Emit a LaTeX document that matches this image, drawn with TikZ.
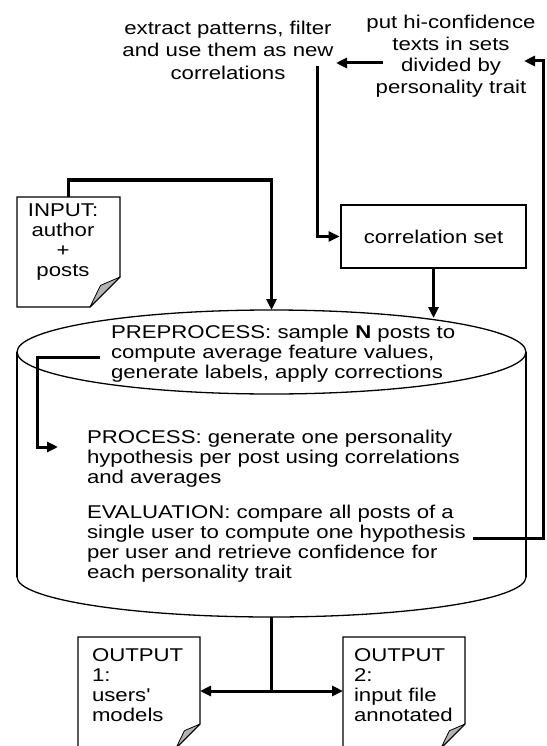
\documentclass[tikz,border=0pt]{standalone}
\usepackage{fontspec}
\setmainfont{Liberation Sans}[FakeStretch=1.2]
\usetikzlibrary{arrows.meta,calc}
\newcommand\docpage[2]{%
  \draw[docline] (#1.south west) -- (#1.north west) -- (#1.north east)
    -- ($(#1.south east)+(0,-#2)$) -- ($(#1.south east)+(-#2,0)$) -- cycle;
  \filldraw[foldfill] ($(#1.south east)+(0,-#2)$) -- ($(#1.south east)+(-#2,0)$)
    -- ($(#1.south east)+(-0.65*#2,-0.72*#2)$) -- cycle;
}
\begin{document}
\begin{tikzpicture}[x=1pt,y=-1pt,
  txt/.style={font=\fontsize{18.5}{20}\selectfont, inner sep=0pt, outer sep=0pt, text=black},
  conn/.style={line width=3pt, -{Triangle[length=11pt,width=10pt]}},
  plain/.style={line width=3pt},
  both/.style={line width=3pt, {Triangle[length=11pt,width=10pt]}-{Triangle[length=11pt,width=10pt]}},
  docbox/.style={draw=none, inner sep=0pt, outer sep=0pt},
  docline/.style={line width=1.3pt, fill=white},
  foldfill/.style={fill=black!30, draw=black, line width=0.8pt, line join=round},
  corrbox/.style={draw, line width=2.8pt, inner sep=0pt, minimum width=185pt, minimum height=63pt, font=\fontsize{18.5}{20}\selectfont},
  cyl/.style={line width=1.3pt}
]
\useasboundingbox (0,0) rectangle (546,746);

% cylinder
\draw[cyl] (17,352) -- (17,577);
\draw[cyl] (526,352) -- (526,577);
\draw[cyl] (17,577) arc[start angle=180, end angle=0, x radius=254.5, y radius=40];
\draw[cyl] (271.5,352) ellipse[x radius=254.5, y radius=42];
\coordinate (cyltop) at (271.5,310);
\coordinate (cylcorr) at (433.5,318);
\coordinate (cylbot) at (271.5,617);

% text nodes
\node[txt, align=center, font=\fontsize{18.5}{22.5}\selectfont] (extract) at (228,50)
  {extract patterns, filter\\and use them as new\\correlations};
\node[txt, align=center, font=\fontsize{18.5}{21.5}\selectfont] (put) at (451,56)
  {put hi-confidence\\texts in sets\\divided by\\personality trait};
\node[corrbox] (corr) at (433.5,236.5) {\raisebox{-3pt}{correlation set}};

\node[docbox, minimum width=103pt, minimum height=110pt] (input) at (68.5,252) {};
\docpage{input}{30}
\node[txt, align=center] (inputtext) at (63,242) {INPUT:\\author\\+\\posts};

\node[docbox, minimum width=122pt, minimum height=111pt] (out1) at (139,692.5) {};
\docpage{out1}{24}
\node[txt, align=left, anchor=west] (out1text) at (92,685) {OUTPUT\\1:\\users\textquotesingle\\models};

\node[docbox, minimum width=122pt, minimum height=111pt] (out2) at (404,692.5) {};
\docpage{out2}{24}
\node[txt, align=left, anchor=west] (out2text) at (354,685) {OUTPUT\\2:\\input file\\annotated};

\node[txt, align=left, anchor=west] (pre) at (111,354)
  {PREPROCESS: sample {\bfseries N} posts to\\compute average feature values,\\generate labels, apply corrections};
\node[txt, align=left, anchor=west] (proc) at (87,459)
  {PROCESS: generate one personality\\hypothesis per post using correlations\\and averages};
\node[txt, align=left, anchor=west] (eval) at (87,544)
  {EVALUATION: compare all posts of a\\single user to compute one hypothesis\\per user and retrieve confidence for\\each personality trait};

% connector coordinates
\coordinate (putout) at (383,63);
\coordinate (extractin) at (336,63);
\coordinate (extractout) at (317,66);
\coordinate (hypend) at (473,538);
\coordinate (loopcorner) at (543,61);
\coordinate (putin) at (524,61);
\coordinate (prestart) at (100,357);
\coordinate (prebend) at (37,357);
\coordinate (procin) at (58,447);
\coordinate (fork) at (271.5,691);

% connectors
\draw[conn] (input.north) -- (input.north |- 0,180) -| (cyltop);
\draw[conn] (corr.south) -- (cylcorr);
\draw[conn] (extractout) |- (corr.west);
\draw[conn] (putout) -- (extractin);
\draw[conn] (hypend) -| (loopcorner) -- (putin);
\draw[conn] (prestart) -- (prebend) |- (procin);
\draw[plain] (cylbot) -- (fork);
\draw[both] (out1.east |- fork) -- (out2.west |- fork);
\end{tikzpicture}
\end{document}
